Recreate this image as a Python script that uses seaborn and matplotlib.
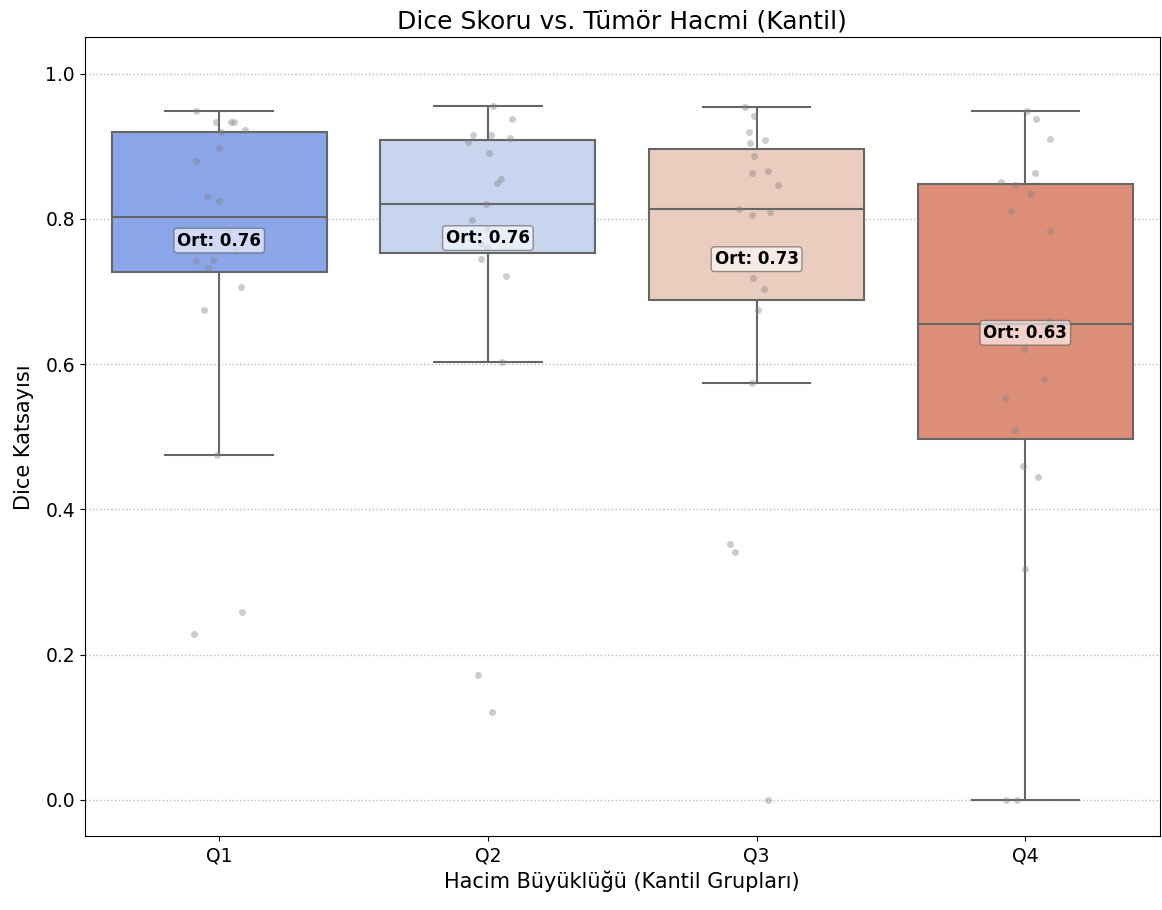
import numpy as np
import pandas as pd
import matplotlib
matplotlib.use("Agg")
import matplotlib.pyplot as plt
import seaborn as sns

# Dice scores per tumour-volume quartile group
groups = ["Q1", "Q2", "Q3", "Q4"]
dice_q1 = [0.948, 0.934, 0.934, 0.933, 0.922, 0.919, 0.898, 0.880, 0.832, 0.824,
           0.782, 0.757, 0.743, 0.742, 0.733, 0.706, 0.675, 0.475, 0.259, 0.228]
dice_q2 = [0.956, 0.938, 0.916, 0.915, 0.912, 0.906, 0.891, 0.855, 0.850, 0.820,
           0.798, 0.786, 0.766, 0.761, 0.745, 0.721, 0.603, 0.172, 0.121]
dice_q3 = [0.954, 0.941, 0.919, 0.908, 0.905, 0.887, 0.866, 0.863, 0.846, 0.814,
           0.809, 0.806, 0.718, 0.703, 0.674, 0.574, 0.352, 0.341, 0.0]
dice_q4 = [0.948, 0.938, 0.910, 0.863, 0.851, 0.847, 0.834, 0.811, 0.783, 0.660,
           0.651, 0.621, 0.579, 0.554, 0.510, 0.460, 0.445, 0.318, 0.0, 0.0]

values = [dice_q1, dice_q2, dice_q3, dice_q4]
df = pd.DataFrame({
    "grup": np.repeat(groups, [len(v) for v in values]),
    "dice": np.concatenate(values),
})

fig, ax = plt.subplots(figsize=(11.62, 9.10), dpi=100)
fig.subplots_adjust(left=0.073, right=0.998, top=0.959, bottom=0.081)

sns.boxplot(data=df, x="grup", y="dice", hue="grup", palette="coolwarm",
            order=groups, legend=False, showfliers=False, linewidth=1.5, ax=ax)

np.random.seed(7)
sns.stripplot(data=df, x="grup", y="dice", order=groups, color="gray",
              alpha=0.4, size=5, jitter=True, ax=ax)

# Mean annotation for each group
for i, g in enumerate(groups):
    m = df.loc[df["grup"] == g, "dice"].mean()
    ax.text(i, m + 0.014, f"Ort: {m:.2f}", ha="center", va="center",
            fontsize=12, fontweight="bold", color="black", zorder=10,
            bbox=dict(boxstyle="round,pad=0.2", facecolor="white",
                      edgecolor="#555555", alpha=0.6))

ax.set_ylim(-0.05, 1.05)
ax.set_xlim(-0.5, 3.5)
ax.yaxis.grid(True, linestyle=":", color="#bbbbbb", linewidth=1)
ax.set_axisbelow(True)
ax.set_title("Dice Skoru vs. Tümör Hacmi (Kantil)", fontsize=18)
ax.set_xlabel("Hacim Büyüklüğü (Kantil Grupları)", fontsize=15)
ax.set_ylabel("Dice Katsayısı", fontsize=15, labelpad=8)
ax.tick_params(labelsize=13.5)

fig.savefig("out.png", dpi=100)
